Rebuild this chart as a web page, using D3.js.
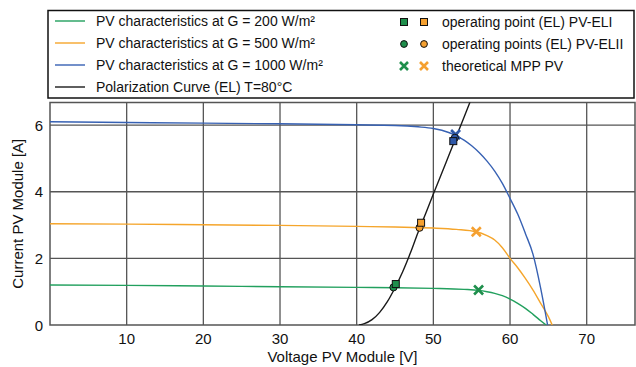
<!DOCTYPE html>
<html>
<head>
<meta charset="utf-8">
<script src="https://cdn.jsdelivr.net/npm/d3@7/dist/d3.min.js"></script>
<style>
  body { margin: 0; background: #fff; }
  svg { display: block; font-family: "Liberation Sans", Arial, sans-serif; }
</style>
</head>
<body>
<div id="chart"></div>
<script>
// PV module I-V curves vs. electrolyser polarization curve

// [voltage V, current A]
const pv200 = [[0, 1.2], [10, 1.19], [20, 1.17], [30, 1.15], [40, 1.13], [45, 1.12], [50, 1.1], [54, 1.07],
    [55.9, 1.04], [57, 1.0], [58, 0.95], [59, 0.88], [60, 0.78], [61, 0.65], [62, 0.5], [63, 0.32], [64, 0.13], [64.7, 0]];
const pv500 = [[0, 3.04], [10, 3.03], [20, 3.01], [30, 2.99], [40, 2.96], [45, 2.94], [50, 2.91], [53, 2.87],
    [55.6, 2.8], [57, 2.68], [58, 2.55], [59, 2.32], [60, 2.0], [61, 1.72], [62, 1.4], [63, 1.05], [64, 0.65], [65, 0.25], [65.5, 0]];
const pv1000 = [[0, 6.1], [10, 6.08], [20, 6.06], [30, 6.04], [40, 6.01], [45, 5.99], [48, 5.95], [50, 5.9],
    [52, 5.78], [53, 5.68], [54, 5.55], [55, 5.38], [56, 5.17], [57, 4.92], [58, 4.62], [59, 4.25], [60, 3.8],
    [61, 3.33], [62, 2.75], [63, 2.12], [64, 1.1], [64.9, 0]];
const polCurve = [[40.3, 0], [41, 0.04], [42, 0.16], [43, 0.38], [44, 0.7], [45, 1.12], [46, 1.6], [47, 2.16],
    [48, 2.78], [49, 3.35], [50, 3.93], [51, 4.5], [52, 5.08], [53, 5.66], [54, 6.24], [55, 6.82]];

const opPointsELI  = [[45.1, 1.23, 'g200'], [48.4, 3.07, 'g500'], [52.6, 5.52, 'g1000']];
const opPointsELII = [[44.8, 1.13, 'g200'], [48.2, 2.92, 'g500'], [52.8, 5.62, 'g1000']];
const mppPoints    = [[55.9, 1.05, 'g200'], [55.6, 2.8, 'g500'], [52.9, 5.72, 'g1000']];

const xTicks = [10, 20, 30, 40, 50, 60, 70];
const yTicks = [0, 2, 4, 6];

const colors = { g200: '#22a05e', g500: '#f5a52b', g1000: '#3761b3', pol: '#1a1a1a' };
const markerColors = { g200: '#1f8f4c', g500: '#f5a030', g1000: '#2f58a8' };

const width = 636, height = 367;
const plot = { left: 50, right: 635, top: 102.5, bottom: 325 };

const svg = d3.select('#chart').append('svg')
    .attr('width', width)
    .attr('height', height);

const x = d3.scaleLinear().domain([0, 76.3]).range([plot.left, plot.right]);
const y = d3.scaleLinear().domain([0, 6.68]).range([plot.bottom, plot.top]);

// grid
svg.append('g').selectAll('line.vg')
    .data(xTicks).enter().append('line')
    .attr('x1', d => x(d)).attr('x2', d => x(d))
    .attr('y1', plot.top).attr('y2', plot.bottom)
    .attr('stroke', '#555').attr('stroke-width', 1.3);
svg.append('g').selectAll('line.hg')
    .data(yTicks.filter(d => d > 0)).enter().append('line')
    .attr('x1', plot.left).attr('x2', plot.right)
    .attr('y1', d => y(d)).attr('y2', d => y(d))
    .attr('stroke', '#555').attr('stroke-width', 1.3);

// frame
svg.append('rect')
    .attr('x', plot.left).attr('y', plot.top)
    .attr('width', plot.right - plot.left).attr('height', plot.bottom - plot.top)
    .attr('fill', 'none').attr('stroke', '#555').attr('stroke-width', 1.5);

svg.append('clipPath').attr('id', 'clip')
    .append('rect')
    .attr('x', plot.left).attr('y', plot.top)
    .attr('width', plot.right - plot.left).attr('height', plot.bottom - plot.top);

const line = d3.line()
    .x(d => x(d[0]))
    .y(d => y(d[1]))
    .curve(d3.curveMonotoneX);

const curves = svg.append('g').attr('clip-path', 'url(#clip)');
[[pv200, colors.g200], [pv500, colors.g500], [pv1000, colors.g1000], [polCurve, colors.pol]].forEach(([data, c]) => {
    curves.append('path')
        .datum(data)
        .attr('d', line)
        .attr('fill', 'none')
        .attr('stroke', c)
        .attr('stroke-width', 1.4);
});

// markers
function drawCross(g, cx, cy, s, c) {
    g.append('path')
        .attr('d', `M${cx - s},${cy - s}L${cx + s},${cy + s}M${cx - s},${cy + s}L${cx + s},${cy - s}`)
        .attr('stroke', c).attr('stroke-width', 2.6).attr('fill', 'none');
}
const marks = svg.append('g');
mppPoints.forEach(d => drawCross(marks, x(d[0]), y(d[1]), 4.5, markerColors[d[2]]));
opPointsELII.forEach(d => {
    marks.append('circle')
        .attr('cx', x(d[0])).attr('cy', y(d[1])).attr('r', 3.6)
        .attr('fill', markerColors[d[2]]).attr('stroke', '#111').attr('stroke-width', 1);
});
opPointsELI.forEach(d => {
    marks.append('rect')
        .attr('x', x(d[0]) - 3.5).attr('y', y(d[1]) - 3.5)
        .attr('width', 7).attr('height', 7)
        .attr('fill', markerColors[d[2]]).attr('stroke', '#111').attr('stroke-width', 1);
});

// tick labels
svg.append('g').selectAll('text')
    .data(xTicks).enter().append('text')
    .attr('x', d => x(d)).attr('y', plot.bottom + 19)
    .attr('text-anchor', 'middle')
    .attr('font-size', 15).attr('fill', '#111')
    .text(d => d);
svg.append('g').selectAll('text')
    .data(yTicks).enter().append('text')
    .attr('x', plot.left - 7).attr('y', d => y(d) + 5.5)
    .attr('text-anchor', 'end')
    .attr('font-size', 15).attr('fill', '#111')
    .text(d => d);

svg.append('text')
    .attr('x', (plot.left + plot.right) / 2).attr('y', 362)
    .attr('text-anchor', 'middle')
    .attr('font-size', 15).attr('fill', '#111')
    .text('Voltage PV Module [V]');
svg.append('text')
    .attr('transform', `translate(23,${(plot.top + plot.bottom) / 2}) rotate(-90)`)
    .attr('text-anchor', 'middle')
    .attr('font-size', 15).attr('fill', '#111')
    .text('Current PV Module [A]');

// legend
const legend = svg.append('g');
legend.append('rect')
    .attr('x', 48).attr('y', 10.5)
    .attr('width', 586).attr('height', 87.5)
    .attr('fill', '#fff').attr('stroke', '#111').attr('stroke-width', 1.5);

const lineItems = [
    { c: colors.g200, label: 'PV characteristics at G = 200 W/m²' },
    { c: colors.g500, label: 'PV characteristics at G = 500 W/m²' },
    { c: colors.g1000, label: 'PV characteristics at G = 1000 W/m²' },
    { c: colors.pol, label: 'Polarization Curve (EL) T=80°C' }
];
lineItems.forEach((it, i) => {
    const ly = 21 + i * 22;
    legend.append('line')
        .attr('x1', 55).attr('x2', 85).attr('y1', ly).attr('y2', ly)
        .attr('stroke', it.c).attr('stroke-width', 1.4);
    legend.append('text')
        .attr('x', 96).attr('y', ly + 5)
        .attr('font-size', 14).attr('fill', '#111')
        .text(it.label);
});

const markerLabels = ['operating point (EL) PV-ELI', 'operating points (EL) PV-ELII', 'theoretical MPP PV'];
const mx = [404, 424];
const mc = [markerColors.g200, markerColors.g500];
markerLabels.forEach((label, i) => {
    const ly = 22 + i * 22;
    mx.forEach((px, j) => {
        if (i === 0) {
            legend.append('rect')
                .attr('x', px - 3.5).attr('y', ly - 3.5).attr('width', 7).attr('height', 7)
                .attr('fill', mc[j]).attr('stroke', '#111').attr('stroke-width', 1);
        } else if (i === 1) {
            legend.append('circle')
                .attr('cx', px).attr('cy', ly).attr('r', 3.4)
                .attr('fill', mc[j]).attr('stroke', '#111').attr('stroke-width', 1);
        } else {
            drawCross(legend, px, ly, 4, mc[j]);
        }
    });
    legend.append('text')
        .attr('x', 442).attr('y', ly + 5)
        .attr('font-size', 14).attr('fill', '#111')
        .text(label);
});
</script>
</body>
</html>
